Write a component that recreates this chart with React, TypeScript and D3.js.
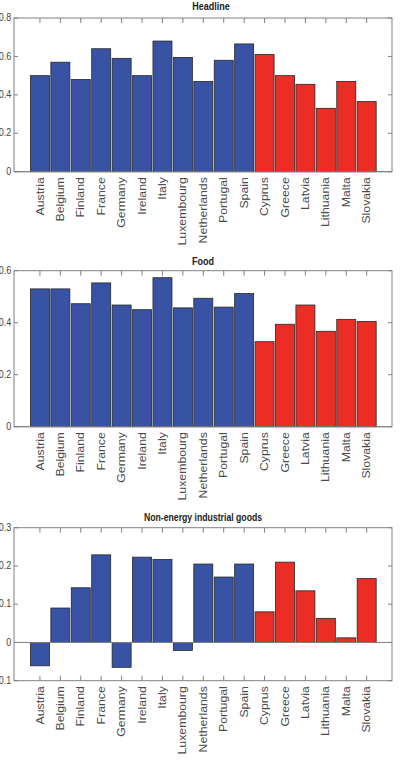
import React from "react";
import * as d3 from "d3";

const countries = [
  "Austria", "Belgium", "Finland", "France", "Germany", "Ireland", "Italy",
  "Luxembourg", "Netherlands", "Portugal", "Spain",
  "Cyprus", "Greece", "Latvia", "Lithuania", "Malta", "Slovakia",
];
const groupA = 11; // first 11 countries in blue, rest in red

const headline = [0.50, 0.57, 0.48, 0.64, 0.59, 0.50, 0.68, 0.595, 0.47, 0.58, 0.665, 0.61, 0.50, 0.455, 0.33, 0.47, 0.365];
const food = [0.53, 0.53, 0.473, 0.553, 0.468, 0.45, 0.573, 0.457, 0.494, 0.46, 0.512, 0.327, 0.394, 0.468, 0.367, 0.413, 0.405];
const neig = [-0.061, 0.09, 0.143, 0.229, -0.065, 0.223, 0.217, -0.021, 0.205, 0.171, 0.205, 0.08, 0.21, 0.135, 0.063, 0.012, 0.167];

const titles = ["Headline", "Food", "Non-energy industrial goods"];
const headlineTicks = [0, 0.2, 0.4, 0.6, 0.8];
const foodTicks = [0, 0.2, 0.4, 0.6];
const neigTicks = [-0.1, 0, 0.1, 0.2, 0.3];

const BLUE = "#3953a4";
const RED = "#ec2d25";
const FONT = "'Liberation Sans', Arial, Helvetica, sans-serif";

const panels = [
  { title: titles[0], values: headline, ticks: headlineTicks, domain: [0, 0.8], top: 18, bottom: 171.7, titleY: 10, titleX: 211, titleSize: 9 },
  { title: titles[1], values: food, ticks: foodTicks, domain: [0, 0.6], top: 270.7, bottom: 426.7, titleY: 265, titleX: 203, titleSize: 9 },
  { title: titles[2], values: neig, ticks: neigTicks, domain: [-0.1, 0.3], top: 527.7, bottom: 680.7, titleY: 521, titleX: 203, titleSize: 8.7 },
];

const LEFT = 14;
const RIGHT = 392;

function fmt(v: number) {
  if (Math.abs(v) < 1e-9) return "0";
  return v < 0 ? "-" + String(Math.abs(v)) : String(v);
}

function Panel({ p }: { p: typeof panels[number] }) {
  const x = d3.scaleLinear().domain([-0.27, 18.24]).range([LEFT, RIGHT]);
  const y = d3.scaleLinear().domain(p.domain).range([p.bottom, p.top]);
  const step = x(2) - x(1);
  const bw = step * 0.93;
  const tickLen = 5;
  return (
    <g>
      <text
        transform={`translate(${p.titleX},${p.titleY}) scale(1,1.2)`}
        textAnchor="middle"
        fontFamily={FONT}
        fontWeight="bold"
        fontSize={p.titleSize}
        fill="#222"
      >
        {p.title}
      </text>
      <rect x={LEFT} y={p.top} width={RIGHT - LEFT} height={p.bottom - p.top} fill="white" stroke="#808080" strokeWidth={1} />
      {countries.map((c, i) => (
        <g key={"t" + c}>
          <line x1={x(i + 1)} x2={x(i + 1)} y1={p.top} y2={p.top + tickLen} stroke="#808080" strokeWidth={1} />
          <line x1={x(i + 1)} x2={x(i + 1)} y1={p.bottom} y2={p.bottom - tickLen} stroke="#808080" strokeWidth={1} />
        </g>
      ))}
      {p.ticks.map((t) => (
        <g key={"y" + t}>
          <line x1={LEFT} x2={LEFT + 4} y1={y(t)} y2={y(t)} stroke="#808080" strokeWidth={1} />
          <line x1={RIGHT} x2={RIGHT - 4} y1={y(t)} y2={y(t)} stroke="#808080" strokeWidth={1} />
          <text
            transform={`translate(11.3,${y(t) + 3.2}) scale(1,1.2)`}
            textAnchor="end"
            fontFamily={FONT}
            fontSize={9}
            fill="#444"
          >
            {fmt(t)}
          </text>
        </g>
      ))}
      {p.values.map((v, i) => {
        const y0 = y(0);
        const y1 = y(v);
        return (
          <rect
            key={"b" + i}
            x={x(i + 1) - bw / 2}
            y={Math.min(y0, y1)}
            width={bw}
            height={Math.abs(y1 - y0)}
            fill={i < groupA ? BLUE : RED}
            stroke="#262626"
            strokeWidth={0.8}
          />
        );
      })}
      <line x1={LEFT} x2={RIGHT} y1={y(0)} y2={y(0)} stroke="#808080" strokeWidth={1} />
      {countries.map((c, i) => (
        <text
          key={"l" + c}
          transform={`translate(${x(i + 1) + 3.6},${p.bottom + 5.5}) scale(1,1.23) rotate(-90)`}
          textAnchor="end"
          fontFamily={FONT}
          fontSize={10}
          fill="#4a4a4a"
        >
          {c}
        </text>
      ))}
    </g>
  );
}

export default function App() {
  return (
    <svg
      width={403}
      height={769}
      style={{ position: "absolute", left: 0, top: 0, background: "white" }}
    >
      <rect x={0} y={0} width={403} height={769} fill="white" />
      {panels.map((p) => (
        <Panel key={p.title} p={p} />
      ))}
    </svg>
  );
}
